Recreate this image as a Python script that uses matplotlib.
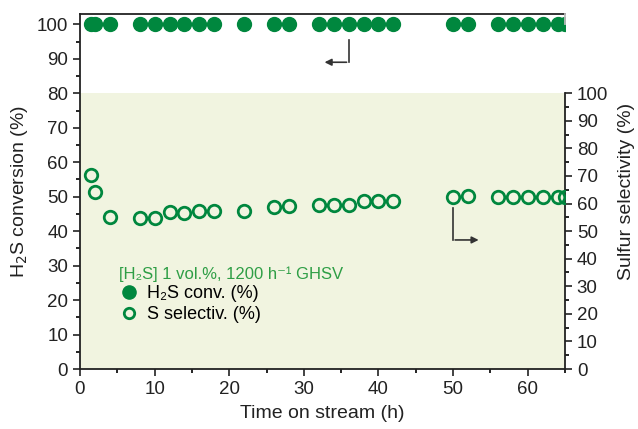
import matplotlib
matplotlib.use("Agg")
import matplotlib.pyplot as plt
from matplotlib.lines import Line2D
from matplotlib.ticker import MultipleLocator

plt.rcParams['font.family'] = ['Liberation Sans', 'DejaVu Sans']

# Data
time_conv = [1.5, 2, 4, 8, 10, 12, 14, 16, 18, 22, 26, 28, 32, 34, 36, 38, 40, 42,
             50, 52, 56, 58, 60, 62, 64, 65]
conv = [100] * len(time_conv)
time_sel = [1.5, 2, 4, 8, 10, 12, 14, 16, 18, 22, 26, 28, 32, 34, 36, 38, 40, 42,
            50, 52, 56, 58, 60, 62, 64, 65]
sel = [70.5, 64.3, 55.0, 54.8, 54.8, 56.8, 56.5, 57.4, 57.4, 57.4, 58.8, 59.2,
       59.5, 59.5, 59.5, 61.0, 61.0, 61.1, 62.4, 62.6, 62.4, 62.4, 62.4, 62.4, 62.4, 62.4]

green = '#00873E'
fig = plt.figure(figsize=(6.38, 4.29), dpi=100)
ax = fig.add_axes([80/638, 1-369/429, 485/638, 355/429])
ax.set_xlim(0, 65)
ax.set_ylim(0, 103)
ax.axhspan(0, 80, color='#F1F4E0', zorder=0, lw=0)

ax.plot(time_conv, conv, 'o', color=green, ms=10, zorder=3)

ax2 = ax.twinx()
ax2.set_ylim(0, 103 * 1.25)
ax2.plot(time_sel, sel, 'o', mfc='none', mec=green, mew=2.0, ms=9, zorder=3)

# axes styling
ax.xaxis.set_major_locator(MultipleLocator(10))
ax.xaxis.set_minor_locator(MultipleLocator(5))
ax.yaxis.set_major_locator(MultipleLocator(10))
ax.yaxis.set_minor_locator(MultipleLocator(5))
ax2.set_yticks(range(0, 101, 10))
ax2.set_yticks(range(5, 100, 10), minor=True)
for a in (ax, ax2):
    a.tick_params(which='major', direction='out', length=5, width=1.2, labelsize=13.5, colors='#222222')
    a.tick_params(which='minor', direction='out', length=3, width=1.2)
ax.tick_params(top=False)
for s in ('left', 'bottom', 'top'):
    ax.spines[s].set_linewidth(1.3)
    ax.spines[s].set_color('#222222')
ax.spines['right'].set_visible(False)
ax2.spines['left'].set_visible(False)
ax2.spines['top'].set_visible(False)
ax2.spines['bottom'].set_visible(False)
ax2.spines['right'].set_bounds(0, 100)
ax2.spines['right'].set_linewidth(1.3)
ax2.spines['right'].set_color('#222222')
ax2.plot([1, 1], [100 * 1.25 / 128.75, 1], transform=ax2.transAxes, color='#BBBBBB',
         lw=1.3, clip_on=False, zorder=5)

ax.set_xlabel('Time on stream (h)', fontsize=14, color='#222222', labelpad=5)
ax.set_ylabel('H$_2$S conversion (%)', fontsize=14, color='#222222', labelpad=5)
ax2.set_ylabel('Sulfur selectivity (%)', fontsize=14, color='#222222', labelpad=7)

# arrows
ax.plot([36, 36], [95.5, 89], color='#333333', lw=1.2)
ax.annotate('', xy=(32.4, 89), xytext=(36.1, 89),
            arrowprops=dict(arrowstyle='-|>', color='#333333', lw=1.2, mutation_scale=10))
ax2.plot([50, 50], [58.4, 46.8], color='#333333', lw=1.2)
ax2.annotate('', xy=(53.8, 46.8), xytext=(49.9, 46.8),
             arrowprops=dict(arrowstyle='-|>', color='#333333', lw=1.2, mutation_scale=10))

# legend
handles = [Line2D([], [], ls='none', marker='o', color=green, ms=9.5),
           Line2D([], [], ls='none', marker='o', mfc='none', mec=green, mew=2.0, ms=7.5)]
leg = ax.legend(handles, ['H\u2082S conv. (%)', 'S selectiv. (%)'],
                title='[H\u2082S] 1 vol.%, 1200 h\u207b\u00b9 GHSV',
                loc='upper left', bbox_to_anchor=(0.065, 0.31), frameon=False,
                fontsize=13, title_fontsize=12, handletextpad=0.45,
                handlelength=1.1, labelspacing=0.2, borderaxespad=0)
leg.get_title().set_color('#2E9E45')
leg._legend_box.align = 'left'
leg.set_zorder(10)

fig.savefig('out.png', dpi=100)
